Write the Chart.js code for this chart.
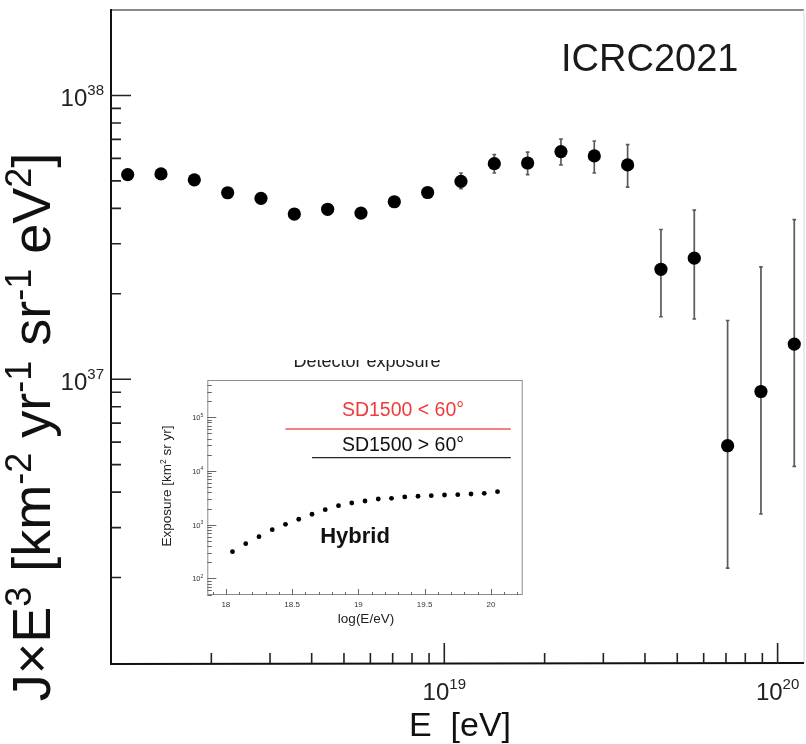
<!DOCTYPE html>
<html><head><meta charset="utf-8">
<script src="https://cdn.jsdelivr.net/npm/chart.js@4.4.1/dist/chart.umd.min.js"></script>
<style>
html,body{margin:0;padding:0;background:#fff;}
#wrap{position:relative;width:806px;height:744px;overflow:hidden;background:#fff;}
#main{position:absolute;left:0;top:0;}
#inset{position:absolute;left:150px;top:360px;}
</style></head><body>
<div id="wrap"><canvas id="main" width="806" height="744"></canvas><canvas id="inset" width="380" height="270"></canvas></div>
<script>
const FONT = '"Liberation Sans", Arial, Helvetica, sans-serif';

// ---------- Main spectrum data ----------
const logEnergy = [18.05,18.15,18.25,18.35,18.45,18.55,18.65,18.75,18.85,18.95,19.05,19.15,19.25,19.35,19.45,19.55,19.65,19.75,19.85,19.95,20.05];
const fluxE3   = [5.26e37,5.29e37,5.04e37,4.54e37,4.34e37,3.82e37,3.97e37,3.85e37,4.22e37,4.55e37,4.98e37,5.75e37,5.78e37,6.34e37,6.12e37,5.69e37,2.44e37,2.67e37,5.83e36,9.05e36,1.33e37];
const fluxLow  = [5.16e37,5.19e37,4.94e37,4.45e37,4.25e37,3.74e37,3.88e37,3.76e37,4.11e37,4.42e37,4.69e37,5.33e37,5.26e37,5.69e37,5.33e37,4.75e37,1.66e37,1.63e37,2.16e36,3.35e36,4.93e36];
const fluxHigh = [5.36e37,5.39e37,5.14e37,4.63e37,4.43e37,3.90e37,4.06e37,3.94e37,4.33e37,4.68e37,5.33e37,6.19e37,6.31e37,7.02e37,6.91e37,6.71e37,3.37e37,3.94e37,1.61e37,2.49e37,3.65e37];

// main axis ticks
const xMajorTicks = [1e19, 1e20];
const xMajorLabels = ['19', '20'];
const yMajorTicks = [1e37, 1e38];
const yMajorLabels = ['37', '38'];
const minorMantissas = [2,3,4,5,6,7,8,9];
const xMinorDecades = [1e18, 1e19];
const yMinorDecades = [1e36, 1e37];

// ---------- Inset (exposure) data ----------
const hybridLogE = [18.05,18.15,18.25,18.35,18.45,18.55,18.65,18.75,18.85,18.95,19.05,19.15,19.25,19.35,19.45,19.55,19.65,19.75,19.85,19.95,20.05];
const hybridExposure = [314,443,598,807,1017,1262,1563,1903,2258,2535,2763,3010,3102,3281,3383,3468,3574,3620,3730,3844,4121];
const sdVerticalLogE = [18.45, 20.15];
const sdVerticalExposure = [60500, 60500];
const sdInclinedLogE = [18.65, 20.15];
const sdInclinedExposure = [17700, 17700];
const insetXMajor = [18, 18.5, 19, 19.5, 20];
const insetXLabels = ['18', '18.5', '19', '19.5', '20'];
const insetXMinor = [17.9,18.1,18.2,18.3,18.4,18.6,18.7,18.8,18.9,19.1,19.2,19.3,19.4,19.6,19.7,19.8,19.9,20.1,20.2];
const insetYMajor = [1e2, 1e3, 1e4, 1e5];
const insetYLabels = ['2', '3', '4', '5'];
const insetYMinorDecades = [1e1, 1e2, 1e3, 1e4, 1e5];

// ---------- helpers ----------
function drawRich(ctx, parts, x, y, align, size, supSize, rise) {
  const f = s => s + 'px ' + FONT;
  let w = 0;
  const widths = parts.map(p => { ctx.font = f(p[1] ? supSize : size); const m = ctx.measureText(p[0]).width; w += m; return m; });
  let cx = align === 'center' ? x - w / 2 : (align === 'right' ? x - w : x);
  ctx.textAlign = 'left';
  ctx.textBaseline = 'alphabetic';
  parts.forEach((p, i) => {
    ctx.font = f(p[1] ? supSize : size);
    ctx.fillText(p[0], cx, p[1] ? y - rise : y);
    cx += widths[i];
  });
  return w;
}

// ---------- Main chart ----------
const mainPlugin = {
  id: 'mainDecor',
  beforeDatasetsDraw(chart) {
    const ctx = chart.ctx, xs = chart.scales.x, ys = chart.scales.y;
    ctx.save();
    ctx.strokeStyle = '#5a5a5a';
    ctx.lineWidth = 1.7;
    for (let i = 0; i < logEnergy.length; i++) {
      const px = xs.getPixelForValue(Math.pow(10, logEnergy[i]));
      const y1 = ys.getPixelForValue(fluxLow[i]);
      const y2 = ys.getPixelForValue(fluxHigh[i]);
      ctx.beginPath();
      ctx.moveTo(px, y1); ctx.lineTo(px, y2);
      ctx.moveTo(px - 1.8, y1); ctx.lineTo(px + 1.8, y1);
      ctx.moveTo(px - 1.8, y2); ctx.lineTo(px + 1.8, y2);
      ctx.stroke();
    }
    ctx.restore();
  },
  afterDraw(chart) {
    const ctx = chart.ctx, a = chart.chartArea, xs = chart.scales.x, ys = chart.scales.y;
    ctx.save();
    // frame
    ctx.lineWidth = 2;
    ctx.strokeStyle = '#8a8a8a';
    ctx.beginPath(); ctx.moveTo(a.left, a.top); ctx.lineTo(a.right, a.top); ctx.stroke();
    ctx.strokeStyle = '#e4e4e4'; ctx.lineWidth = 1.5;
    ctx.beginPath(); ctx.moveTo(a.right, a.top); ctx.lineTo(a.right, a.bottom); ctx.stroke();
    ctx.strokeStyle = '#111'; ctx.lineWidth = 2;
    ctx.beginPath(); ctx.moveTo(a.left, a.top - 1); ctx.lineTo(a.left, a.bottom + 1); ctx.lineTo(a.right, a.bottom); ctx.stroke();

    // ticks
    ctx.strokeStyle = '#222'; ctx.lineWidth = 1.6;
    ctx.beginPath();
    yMajorTicks.forEach(v => { const p = ys.getPixelForValue(v); ctx.moveTo(a.left, p); ctx.lineTo(a.left + 20, p); });
    yMinorDecades.forEach(d => minorMantissas.forEach(m => { const v = m * d; if (v >= ys.min && v <= ys.max) { const p = ys.getPixelForValue(v); ctx.moveTo(a.left, p); ctx.lineTo(a.left + 10, p); } }));
    xMajorTicks.forEach(v => { const p = xs.getPixelForValue(v); ctx.moveTo(p, a.bottom); ctx.lineTo(p, a.bottom - 20); });
    xMinorDecades.forEach(d => minorMantissas.forEach(m => { const v = m * d; if (v >= xs.min && v <= xs.max) { const p = xs.getPixelForValue(v); ctx.moveTo(p, a.bottom); ctx.lineTo(p, a.bottom - 10); } }));
    ctx.stroke();

    // tick labels
    ctx.fillStyle = '#222';
    yMajorTicks.forEach((v, i) => {
      const p = ys.getPixelForValue(v);
      drawRich(ctx, [['10', false], [yMajorLabels[i], true]], 104, p + 11, 'right', 24, 15, 11);
    });
    xMajorTicks.forEach((v, i) => {
      const p = xs.getPixelForValue(v);
      drawRich(ctx, [['10', false], [xMajorLabels[i], true]], p, 700, 'center', 24, 15, 11);
    });

    // axis titles
    ctx.fillStyle = '#111';
    drawRich(ctx, [['E  [eV]', false]], 460, 736, 'center', 34, 20, 0);
    ctx.save();
    ctx.translate(50, 427);
    ctx.rotate(-Math.PI / 2);
    drawRich(ctx, [['J\u00d7E', false], ['3', true], [' [km', false], ['-2', true], [' yr', false], ['-1', true], [' sr', false], ['-1', true], [' eV', false], ['2', true], [']', false]], 0, 0, 'center', 54, 36, 19);
    ctx.restore();

    // label
    ctx.fillStyle = '#1a1a1a';
    ctx.font = '38px ' + FONT;
    ctx.textAlign = 'left'; ctx.textBaseline = 'alphabetic';
    ctx.fillText('ICRC2021', 561, 71);
    ctx.restore();
  }
};

new Chart(document.getElementById('main'), {
  type: 'scatter',
  data: {
    datasets: [{
      data: logEnergy.map((e, i) => ({ x: Math.pow(10, e), y: fluxE3[i] })),
      pointRadius: 6.6,
      pointBackgroundColor: '#000',
      pointBorderWidth: 0,
      showLine: false,
      clip: false
    }]
  },
  options: {
    responsive: false,
    animation: false,
    devicePixelRatio: 1,
    layout: { autoPadding: false, padding: { left: 111, top: 10, right: 2, bottom: 81 } },
    plugins: { legend: { display: false }, tooltip: { enabled: false } },
    scales: {
      x: { type: 'logarithmic', min: 1e18, max: 1.2e20, display: false },
      y: { type: 'logarithmic', min: 1e36, max: 2e38, display: false }
    }
  },
  plugins: [mainPlugin]
});

// ---------- Inset chart ----------
const insetPlugin = {
  id: 'insetDecor',
  beforeDraw(chart) {
    const ctx = chart.ctx;
    ctx.save(); ctx.fillStyle = '#fff'; ctx.fillRect(0, 0, chart.width, chart.height); ctx.restore();
  },
  afterDraw(chart) {
    const ctx = chart.ctx, a = chart.chartArea, xs = chart.scales.x, ys = chart.scales.y;
    ctx.save();
    ctx.strokeStyle = '#8c8c8c'; ctx.lineWidth = 1;
    ctx.strokeRect(a.left + 0.5, a.top + 0.5, a.right - a.left - 1, a.bottom - a.top - 1);
    ctx.strokeStyle = '#666'; ctx.lineWidth = 1;
    ctx.beginPath();
    insetXMajor.forEach(v => { const p = Math.round(xs.getPixelForValue(v)) + 0.5; ctx.moveTo(p, a.bottom); ctx.lineTo(p, a.bottom - 6); });
    insetXMinor.forEach(v => { const p = Math.round(xs.getPixelForValue(v)) + 0.5; ctx.moveTo(p, a.bottom); ctx.lineTo(p, a.bottom - 3); });
    insetYMajor.forEach(v => { const p = Math.round(ys.getPixelForValue(v)) + 0.5; ctx.moveTo(a.left, p); ctx.lineTo(a.left + 9, p); });
    insetYMinorDecades.forEach(d => minorMantissas.forEach(m => { const v = m * d; if (v >= ys.min && v <= ys.max) { const p = Math.round(ys.getPixelForValue(v)) + 0.5; ctx.moveTo(a.left, p); ctx.lineTo(a.left + 4.5, p); } }));
    ctx.stroke();

    ctx.fillStyle = '#333';
    ctx.font = '8px ' + FONT; ctx.textAlign = 'center'; ctx.textBaseline = 'alphabetic';
    insetXMajor.forEach((v, i) => ctx.fillText(insetXLabels[i], xs.getPixelForValue(v), a.bottom + 12));
    insetYMajor.forEach((v, i) => {
      drawRich(ctx, [['10', false], [insetYLabels[i], true]], a.left - 4, ys.getPixelForValue(v) + 3, 'right', 7.5, 5, 3.5);
    });

    // titles
    ctx.fillStyle = '#222';
    ctx.font = '13.5px ' + FONT; ctx.textAlign = 'center';
    ctx.fillText('log(E/eV)', 216, 263);
    ctx.save();
    ctx.translate(21, 126);
    ctx.rotate(-Math.PI / 2);
    drawRich(ctx, [['Exposure [km', false], ['2', true], [' sr yr]', false]], 0, 0, 'center', 13.5, 8.5, 5);
    ctx.restore();
    ctx.font = '18px ' + FONT; ctx.textAlign = 'center';
    ctx.fillText('Detector exposure', 217, 6.5);

    // annotations
    ctx.fillStyle = '#ee3b3b';
    ctx.font = '19.5px ' + FONT; ctx.textAlign = 'center';
    ctx.fillText('SD1500 < 60\u00b0', 253, 56);
    ctx.fillStyle = '#111';
    ctx.fillText('SD1500 > 60\u00b0', 253, 90.5);
    ctx.font = 'bold 22px ' + FONT;
    ctx.fillText('Hybrid', 205, 182.5);
    ctx.restore();
  }
};

new Chart(document.getElementById('inset'), {
  type: 'scatter',
  data: {
    datasets: [
      { data: hybridLogE.map((e, i) => ({ x: e, y: hybridExposure[i] })), pointRadius: 2.4, pointBackgroundColor: '#000', pointBorderWidth: 0, showLine: false },
      { data: sdVerticalLogE.map((e, i) => ({ x: e, y: sdVerticalExposure[i] })), showLine: true, borderColor: '#ec5a5a', borderWidth: 1.6, pointRadius: 0 },
      { data: sdInclinedLogE.map((e, i) => ({ x: e, y: sdInclinedExposure[i] })), showLine: true, borderColor: '#222', borderWidth: 1.4, pointRadius: 0 }
    ]
  },
  options: {
    responsive: false,
    animation: false,
    devicePixelRatio: 1,
    layout: { autoPadding: false, padding: { left: 57.3, top: 20, right: 7.3, bottom: 35 } },
    plugins: { legend: { display: false }, tooltip: { enabled: false } },
    scales: {
      x: { type: 'linear', min: 17.86, max: 20.24, display: false },
      y: { type: 'logarithmic', min: 49, max: 4.95e5, display: false }
    }
  },
  plugins: [insetPlugin]
});
</script>
</body></html>
